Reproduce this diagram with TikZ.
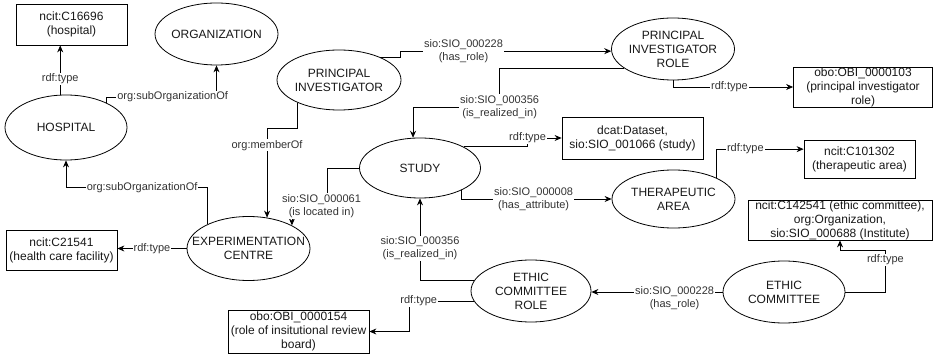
\documentclass[tikz,border=0pt]{standalone}
\usepackage{fontspec}
\setmainfont{Liberation Sans}
\usetikzlibrary{shapes.geometric,arrows.meta}

\newcommand{\nodefont}{\fontsize{12}{14}\selectfont}
\newcommand{\edgefont}{\fontsize{11}{13}\selectfont}

\begin{document}
\begin{tikzpicture}[x=1pt, y=-1pt, >={Stealth[length=7pt,width=6pt]}, line width=0.8pt,
  ent/.style={ellipse, draw, inner sep=0pt, minimum width=123pt, minimum height=62pt},
  etxt/.style={align=center, font=\nodefont, text=black!90, inner sep=0pt},
  box/.style={draw, rectangle, align=center, inner sep=0pt, font=\nodefont, text=black!90},
  lbl/.style={fill=white, align=center, font=\edgefont, text=black!80, inner sep=1pt}]
  % Canvas
  \useasboundingbox (0,0) rectangle (933,355);
  \fill[white] (0,0) rectangle (933,355);

  % Classes
  \node[box, minimum width=111pt, minimum height=41pt] (hospcls) at (71.5,24.5) {ncit:C16696\\(hospital)};
  \node[box, minimum width=111pt, minimum height=40pt] (facility) at (61.5,250) {ncit:C21541\\(health care facility)};
  \node[box, minimum width=141pt, minimum height=43pt] (irbrole) at (298.5,331.5) {obo:OBI\_0000154\\(role of insitutional review\\board)};
  \node[box, minimum width=141pt, minimum height=42pt] (dataset) at (632.5,138) {dcat:Dataset,\\sio:SIO\_001066 (study)};
  \node[box, minimum width=139pt, minimum height=40pt] (pirolecls) at (863,87) {obo:OBI\_0000103\\(principal investigator\\role)};
  \node[box, minimum width=111pt, minimum height=38pt] (areacls) at (859.5,159) {ncit:C101302\\(therapeutic area)};
  \node[box, minimum width=184pt, minimum height=40pt] (ethiccls) at (840,220) {ncit:C142541 (ethic committee),\\org:Organization,\\sio:SIO\_000688 (Institute)};

  % Entities
  \node[ent, label={[etxt]center:ORGANIZATION}] (org) at (216.5,34) {};
  \node[ent, minimum width=122pt, minimum height=65pt, label={[etxt]center:HOSPITAL}] (hosp) at (66,127.5) {};
  \node[ent, minimum width=124pt, minimum height=60pt, label={[etxt]center:{PRINCIPAL\\INVESTIGATOR}}] (pi) at (339,80) {};
  \node[ent, label={[etxt]center:{PRINCIPAL\\INVESTIGATOR\\ROLE}}] (pirole) at (673,49) {};
  \node[ent, minimum width=121pt, minimum height=60pt, label={[etxt]center:STUDY}] (study) at (420,168) {};
  \node[ent, minimum height=58pt, label={[etxt]center:{THERAPEUTIC\\AREA}}] (area) at (673.5,199) {};
  \node[ent, minimum width=122pt, label={[etxt]center:{ETHIC\\COMMITTEE}}] (ethic) at (784,292) {};
  \node[ent, minimum width=120pt, label={[etxt]center:{ETHIC\\COMMITTEE\\ROLE}}] (ethicrole) at (531,291) {};
  \node[ent, minimum height=64pt, label={[etxt]center:{EXPERIMENTATION\\CENTRE}}] (centre) at (248.5,248.5) {};

  % Hospital and centre
  \draw[->] (hosp.100) -- node[lbl, pos=0.32] (l1) {rdf:type} (hosp.100 |- hospcls.south);
  \draw[->] (hosp.31) -- ++(0,-6) -| node[lbl, pos=0.3] (l2) {org:subOrganizationOf} (org.south);
  \draw[->] (centre.150) -- ++(0,-37) -| node[lbl, pos=0.23] (l3) {org:subOrganizationOf} (hosp.south);
  \draw[->] (centre.west) -- node[lbl] (l4) {rdf:type} (centre.west -| facility.east);
  \draw[->] (pi.209) -- ++(0,25.5) -| node[lbl, pos=0.595] (l5) {org:memberOf} (centre.59);
  \draw[->] (study.west) -| ++(-32,38) -| node[lbl, pos=0.08] (l6) {sio:SIO\_000061\\(is located in)} (centre.28);

  % Principal investigator
  \draw[->] (pi.29) -- ++(20,0) |- node[lbl, pos=0.65] (l7) {sio:SIO\_000228\\(has\_role)} (pirole.182);
  \draw[->] (pirole.201) -| node[lbl, pos=1] (l8) {sio:SIO\_000356\\(is\_realized\_in)} ++(-124,39) -| (study.103);
  \draw[->] (pirole.south) |- node[lbl, pos=0.735] (l9) {rdf:type} (pirolecls.west);

  % Study
  \draw[->] (study.26) -- ++(64,0) |- node[lbl, pos=0.5] (l10) {rdf:type} (dataset.west);
  \draw[->] (study.332) |- node[lbl, pos=0.74] (l11) {sio:SIO\_000008\\(has\_attribute)} (area.west);
  \draw[->] (area.26) |- node[lbl, pos=0.665] (l12) {rdf:type} (areacls.170);

  % Ethic committee
  \draw[->] (ethic.west) -- node[lbl, pos=0.366, yshift=-6.5pt] (l13) {sio:SIO\_000228\\(has\_role)} (ethic.west -| ethicrole.east);
  \draw[->] (ethic.east) -| node[lbl, pos=0.88] (l14) {rdf:type} ++(40,-42) -| (ethiccls.south);
  \draw[->] (ethicrole.169) -| node[lbl, pos=0.695] (l15) {sio:SIO\_000356\\(is\_realized\_in)} (study.south);
  \draw[->] (ethicrole.190) -- node[lbl, pos=0.86] (l16) {rdf:type} ++(-64,0) |- (irbrole.east);
\end{tikzpicture}
\end{document}
